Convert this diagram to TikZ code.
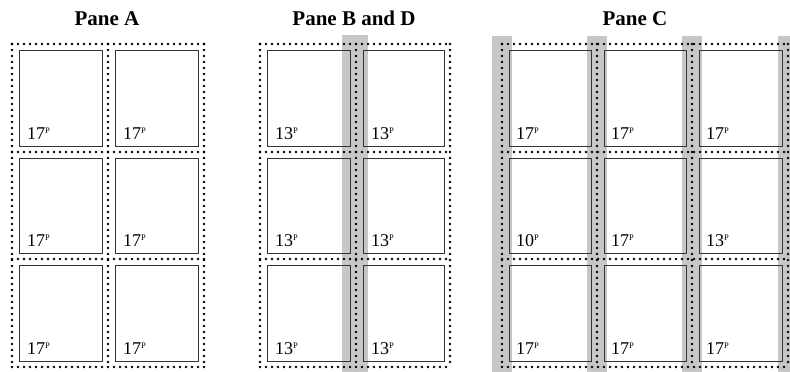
\documentclass[tikz,border=0pt]{standalone}
\usepackage{fontspec}
\setmainfont{Liberation Serif}
\newcommand\supP{\raisebox{5.5pt}{\fontsize{8.5}{9}\selectfont P}}
\begin{document}
\begin{tikzpicture}[x=1pt,y=-1pt,
  perf/.style={line width=2.9pt,line cap=round,dash pattern=on 0pt off 6pt,black},
  stampbox/.style={draw=black!80,line width=0.8pt},
  band/.style={fill=black!22},
  val/.style={anchor=base west,inner sep=0pt,font=\fontsize{18}{20}\selectfont},
  ttl/.style={anchor=base,inner sep=0pt,font=\fontsize{21}{24}\selectfont\bfseries}]
\useasboundingbox (0,0) rectangle (790,372);
% gray bands
\fill[band] (342,35) rectangle (368,372);
\foreach \x in {502,597,692} \fill[band] (\x-10,36) rectangle (\x+10,372);
\fill[band] (778,36) rectangle (790,372);
% titles
\node[ttl] (tA) at (107,25) {Pane A};
\node[ttl] (tB) at (354,25) {Pane B and D};
\node[ttl] (tC) at (635,25) {Pane C};
% Pane A
\foreach \x in {12,108,204} \draw[perf] (\x,44) -- (\x,367);
\foreach \y in {44,152,259,367} \draw[perf] (12,\y) -- (204,\y);
\foreach \xa/\xb/\c in {12/108/1,108/204/2}
  \foreach \ya/\yb/\r in {44/152/1,152/259/2,259/367/3} {
    \draw[stampbox] (\xa+7,\ya+6) rectangle (\xb-6,\yb-6);
    \node[val] (A\r\c) at (\xa+15,\yb-13) {17\supP};
  }
% Pane B
\foreach \x in {260,356,450} \draw[perf] (\x,44) -- (\x,367);
\foreach \y in {44,152,259,367} \draw[perf] (260,\y) -- (450,\y);
\foreach \xa/\xb/\c in {260/356/1,356/450/2}
  \foreach \ya/\yb/\r in {44/152/1,152/259/2,259/367/3} {
    \draw[stampbox] (\xa+7,\ya+6) rectangle (\xb-6,\yb-6);
    \node[val] (B\r\c) at (\xa+15,\yb-13) {13\supP};
  }
% Pane C
\foreach \x in {502,597,692,788} \draw[perf] (\x,44) -- (\x,367);
\foreach \y in {44,152,259,367} \draw[perf] (502,\y) -- (788,\y);
\foreach \ya/\yb/\r/\la/\lb/\lc in {44/152/1/17/17/17,152/259/2/10/17/13,259/367/3/17/17/17} {
    \draw[stampbox] (509,\ya+6) rectangle (591,\yb-6);
    \draw[stampbox] (604,\ya+6) rectangle (686,\yb-6);
    \draw[stampbox] (699,\ya+6) rectangle (782,\yb-6);
    \node[val] (C\r1) at (516,\yb-13) {\la\supP};
    \node[val] (C\r2) at (611,\yb-13) {\lb\supP};
    \node[val] (C\r3) at (706,\yb-13) {\lc\supP};
  }
\end{tikzpicture}
\end{document}
